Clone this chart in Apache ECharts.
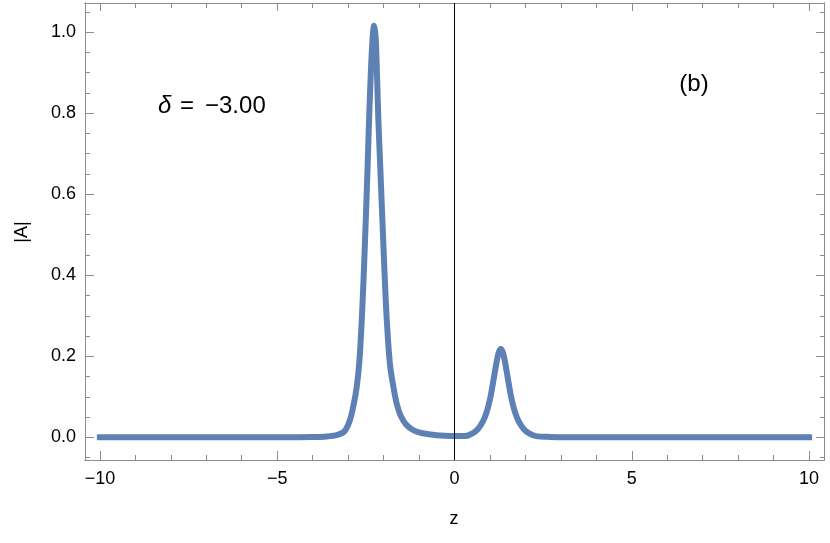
<!DOCTYPE html>
<html>
<head>
<meta charset="utf-8">
<script src="https://cdn.jsdelivr.net/npm/echarts@6/dist/echarts.min.js"></script>
<style>html,body{margin:0;padding:0;background:#fff}#c{width:830px;height:543px}</style>
</head>
<body>
<div id="c"></div>
<script>
// ---- data ----
const zValues = [-10, -5, -4, -3.6, -3.3, -3.1, -2.95, -2.85, -2.756, -2.68, -2.615, -2.56, -2.502, -2.45, -2.409, -2.36, -2.31, -2.268, -2.225, -2.18, -2.147, -2.09, -2.034, -1.97, -1.91, -1.82, -1.724, -1.62, -1.5, -1.35, -1.15, -0.9, -0.5, -0.1, 0.306, 0.506, 0.656, 0.806, 0.906, 1.006, 1.066, 1.126, 1.186, 1.246, 1.306, 1.366, 1.426, 1.486, 1.546, 1.606, 1.706, 1.806, 1.956, 2.106, 2.306, 2.7, 3.2, 5, 10];
const absA    = [0, 0, 0.0005, 0.002, 0.006, 0.015, 0.042, 0.078, 0.125, 0.19, 0.29, 0.40, 0.537, 0.67, 0.783, 0.90, 0.985, 1.016, 0.99, 0.88, 0.783, 0.66, 0.537, 0.40, 0.29, 0.18, 0.125, 0.08, 0.05, 0.03, 0.017, 0.01, 0.005, 0.003, 0.003, 0.01, 0.02, 0.04, 0.062, 0.096, 0.124, 0.155, 0.185, 0.209, 0.218, 0.209, 0.185, 0.155, 0.124, 0.096, 0.062, 0.04, 0.02, 0.01, 0.003, 0.001, 0.0003, 0, 0];
const xMajorTicks = [-10, -5, 0, 5, 10];
const xTickLabels = ['\u221210', '\u22125', '0', '5', '10'];
const xMinorTicks = [-9, -8, -7, -6, -4, -3, -2, -1, 1, 2, 3, 4, 6, 7, 8, 9];
const yMajorTicks = [0, 0.2, 0.4, 0.6, 0.8, 1.0];
const yTickLabels = ['0.0', '0.2', '0.4', '0.6', '0.8', '1.0'];
const yMinorTicks = [-0.05, 0.05, 0.1, 0.15, 0.25, 0.3, 0.35, 0.45, 0.5, 0.55, 0.65, 0.7, 0.75, 0.85, 0.9, 0.95, 1.05];
const deltaLabel = '\u03b4';
const deltaEq = '=';
const deltaValue = '\u22123.00';
const panelLabel = '(b)';
const xName = 'z';
const yName = '|A|';

const X_MIN = -10.42, X_MAX = 10.42, Y_MIN = -0.056, Y_MAX = 1.072;
const FONT = 'Liberation Sans';
const FRAME = '#8c8c8c';

function xAx(pos, vals, len, labels) {
  return {
    type: 'value', position: pos, min: X_MIN, max: X_MAX,
    axisLine: { show: true, onZero: false, lineStyle: { color: FRAME, width: 1 } },
    splitLine: { show: false },
    axisTick: { show: true, inside: true, length: len, customValues: vals, lineStyle: { color: FRAME, width: 1 } },
    axisLabel: labels ? {
      show: true, customValues: vals, margin: 10, color: '#000', fontSize: 18, fontFamily: FONT,
      formatter: v => { const i = xMajorTicks.indexOf(Math.round(v)); return i >= 0 ? xTickLabels[i] : ''; }
    } : { show: false }
  };
}
function yAx(pos, vals, len, labels) {
  return {
    type: 'value', position: pos, min: Y_MIN, max: Y_MAX,
    axisLine: { show: true, onZero: false, lineStyle: { color: FRAME, width: 1 } },
    splitLine: { show: false },
    axisTick: { show: true, inside: true, length: len, customValues: vals, lineStyle: { color: FRAME, width: 1 } },
    axisLabel: labels ? {
      show: true, customValues: vals, margin: 9, color: '#000', fontSize: 18, fontFamily: FONT,
      formatter: v => { let b = 0, d = 1e9; yMajorTicks.forEach((t, i) => { if (Math.abs(t - v) < d) { d = Math.abs(t - v); b = i; } }); return yTickLabels[b]; }
    } : { show: false }
  };
}

const chart = echarts.init(document.getElementById('c'), null, { renderer: 'canvas' });
chart.setOption({
  backgroundColor: '#fff',
  animation: false,
  grid: { left: 85, right: 6, top: 3, bottom: 83, containLabel: false },
  xAxis: [
    xAx('bottom', xMajorTicks, 9, true),
    xAx('bottom', xMinorTicks, 5, false),
    xAx('top', xMajorTicks, 8, false),
    xAx('top', xMinorTicks, 5, false)
  ],
  yAxis: [
    yAx('left', yMajorTicks, 9, true),
    yAx('left', yMinorTicks, 5, false),
    yAx('right', yMajorTicks, 8, false),
    yAx('right', yMinorTicks, 4, false)
  ],
  series: [
    {
      type: 'line', xAxisIndex: 0, yAxisIndex: 0,
      data: zValues.map((z, i) => [z, absA[i]]),
      showSymbol: false, smooth: 0.3,
      lineStyle: { color: '#5E81B5', width: 6, cap: 'square', join: 'round' },
      z: 2
    },
    {
      type: 'line', xAxisIndex: 0, yAxisIndex: 0, data: [], z: 5,
      markLine: {
        silent: true, symbol: ['none', 'none'], label: { show: false },
        lineStyle: { color: '#000', width: 1, type: 'solid' },
        data: [{ xAxis: 0 }], animation: false
      }
    }
  ],
  graphic: [
    { type: 'text', left: 158, top: 94, style: { text: deltaLabel, font: 'italic 24px "Liberation Sans"', fill: '#000' } },
    { type: 'text', left: 180, top: 94, style: { text: deltaEq, font: '24px "Liberation Sans"', fill: '#000' } },
    { type: 'text', left: 205, top: 94, style: { text: deltaValue, font: '24px "Liberation Sans"', fill: '#000' } },
    { type: 'text', x: 694, y: 84, style: { text: panelLabel, font: '24px "Liberation Sans"', fill: '#000', align: 'center', verticalAlign: 'middle' } },
    { type: 'text', x: 454, y: 519, style: { text: xName, font: '18px "Liberation Sans"', fill: '#000', align: 'center', verticalAlign: 'middle' } },
    { type: 'text', x: 22, y: 232, rotation: Math.PI / 2, style: { text: yName, font: '18px "Liberation Sans"', fill: '#000', align: 'center', verticalAlign: 'middle' } }
  ]
});
</script>
</body>
</html>
